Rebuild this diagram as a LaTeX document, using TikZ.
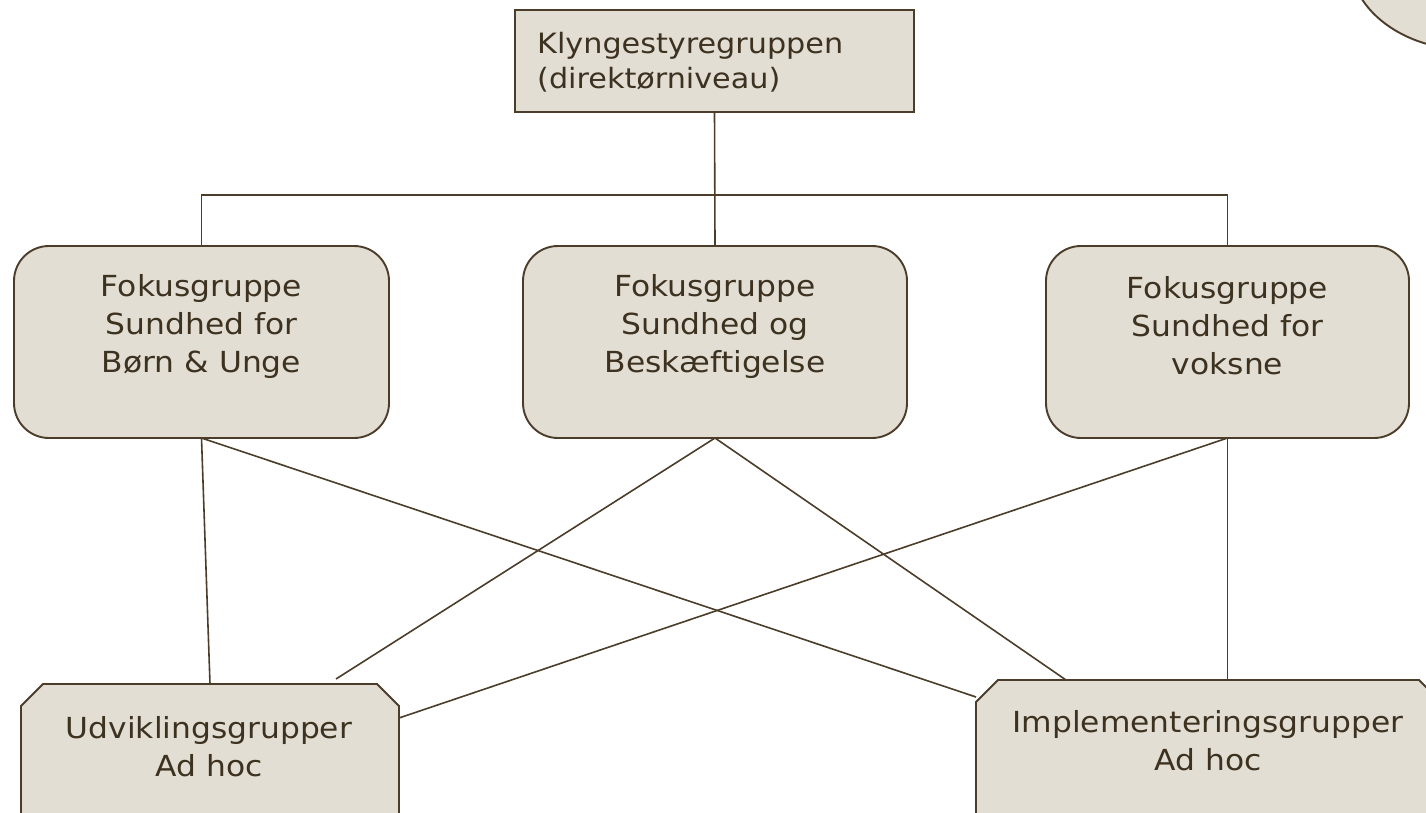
\documentclass[tikz,border=0pt]{standalone}
\usepackage{fontspec}
\setmainfont{DejaVu Sans}[FakeStretch=1.08]
\usetikzlibrary{shapes.geometric}
\definecolor{boxfill}{HTML}{E2DED4}
\definecolor{boxline}{HTML}{4B3D2A}
\definecolor{txtcol}{HTML}{3D3120}
\tikzset{
  box/.style={draw=boxline, fill=boxfill, line width=1.9pt, outer sep=0pt, inner sep=0pt},
  fokus/.style={box, rounded corners=35pt, minimum width=#1, minimum height=192pt},
  conn/.style={draw=boxline, line width=1.6pt},
  txt/.style={text=txtcol, align=center, font=\fontsize{29}{38}\selectfont, inner sep=0pt},
}
\begin{document}
\begin{tikzpicture}[x=1pt,y=-1pt]
\useasboundingbox (0,0) rectangle (1426,813);
\clip (0,0) rectangle (1426,813);
% ellipse at top right
\node[box, ellipse, minimum width=240pt, minimum height=180pt] (el) at (1470,-40) {};
% top box
\node[box, minimum width=399pt, minimum height=102pt] (top) at (714.5,61) {};
\node[txt, align=left, anchor=west, font=\fontsize{28}{35}\selectfont] (topt) at (537,62) {Klyngestyregruppen\\(direktørniveau)};
% fokus boxes
\node[fokus=375pt] (f1) at (201.5,342) {};
\node[fokus=384pt] (f2) at (715,342) {};
\node[fokus=363pt] (f3) at (1227.5,342) {};
\node[txt] (f1t) at (201.5,326) {Fokusgruppe\\Sundhed for\\Børn \& Unge};
\node[txt] (f2t) at (715,326) {Fokusgruppe\\Sundhed og\\Beskæftigelse};
\node[txt] (f3t) at (1227.5,326) {Fokusgruppe\\Sundhed for\\voksne};
% bottom boxes (chamfered, running off the page)
\draw[box] (21,706) -- (43,684) -- (377,684) -- (399,706) -- (399,840) -- (21,840) -- cycle;
\draw[box] (976,702) -- (998,680) -- (1419,680) -- (1441,702) -- (1441,840) -- (976,840) -- cycle;
\coordinate (ud) at (210,684);
\coordinate (ip) at (1208,680);
\node[txt] (udt) at (209,747) {Udviklingsgrupper\\Ad hoc};
\node[txt] (ipt) at (1208,741) {Implementeringsgrupper\\Ad hoc};
% coordinates
\coordinate (bar) at (714,195);
\coordinate (ipl) at (976,697);
\coordinate (udt2) at (336,679);
\coordinate (ipt2) at (1066,680);
\coordinate (udr) at (399,718);
% connectors
\draw[conn] (top.south) -- (f2.north);
\draw[conn] (f1.north) |- (bar) -| (f3.north);
\draw[conn] (f1.south) -- (ud);
\draw[conn] (f1.south) -- (ipl);
\draw[conn] (f2.south) -- (udt2);
\draw[conn] (f2.south) -- (ipt2);
\draw[conn] (f3.south) -- (udr);
\draw[conn] (f3.south) -- (f3.south |- ip);
\end{tikzpicture}
\end{document}
